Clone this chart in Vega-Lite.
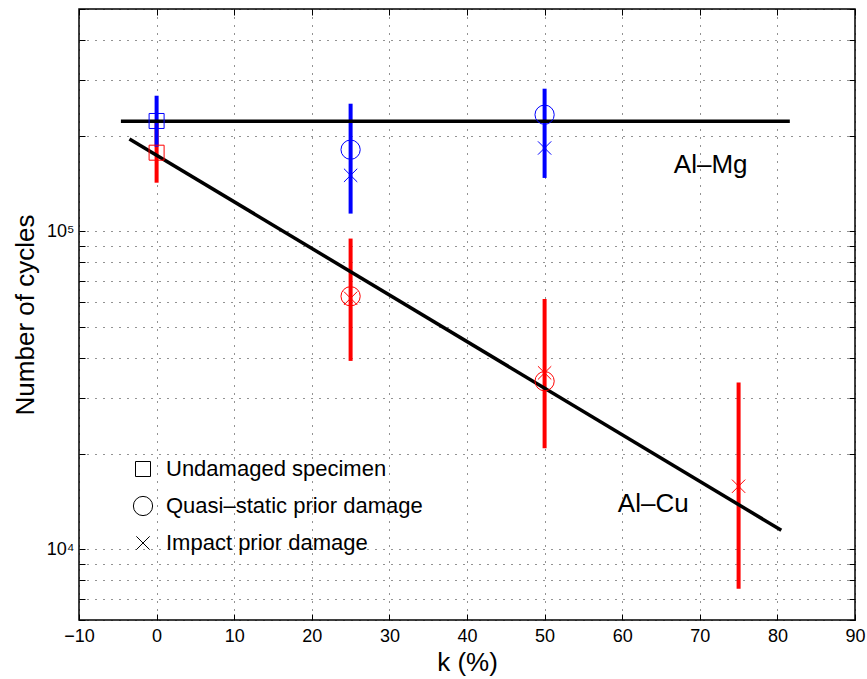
{
  "$schema": "https://vega.github.io/schema/vega-lite/v6.json",
  "width": 776,
  "height": 611,
  "autosize": "none",
  "padding": {"left": 79, "top": 9, "right": 12, "bottom": 59},
  "background": "white",
  "config": {
    "font": "Liberation Sans",
    "view": {"stroke": "black", "strokeWidth": 1.5},
    "axis": {
      "domain": false,
      "grid": true,
      "gridColor": "#000000",
      "gridOpacity": 0.85,
      "gridDash": [1, 7],
      "gridWidth": 1,
      "tickColor": "#000000",
      "tickSize": -6,
      "labelColor": "#000000",
      "labelFont": "Liberation Sans",
      "labelFontSize": 18,
      "titleFont": "Liberation Sans",
      "titleFontSize": 26,
      "titleFontWeight": "normal",
      "titleColor": "#000000"
    }
  },
  "resolve": {"axis": {"x": "independent", "y": "independent"}},
  "datasets": {
    "bars": [
      {"alloy": "Al-Cu", "k": 0, "lo": 142200, "hi": 219600},
      {"alloy": "Al-Cu", "k": 25, "lo": 39150, "hi": 94900},
      {"alloy": "Al-Cu", "k": 50, "lo": 20800, "hi": 61300},
      {"alloy": "Al-Cu", "k": 75, "lo": 7525, "hi": 33470},
      {"alloy": "Al-Mg", "k": 0, "lo": 184600, "hi": 266900},
      {"alloy": "Al-Mg", "k": 25, "lo": 113700, "hi": 251900},
      {"alloy": "Al-Mg", "k": 50, "lo": 147200, "hi": 280800}
    ],
    "fits": [
      {"alloy": "Al-Mg", "k": -4.6, "n": 222000},
      {"alloy": "Al-Mg", "k": 81.6, "n": 222000},
      {"alloy": "Al-Cu", "k": -3.5, "n": 195200},
      {"alloy": "Al-Cu", "k": 80.5, "n": 11490}
    ],
    "points": [
      {"alloy": "Al-Cu", "type": "Undamaged specimen", "k": 0, "n": 176700},
      {"alloy": "Al-Cu", "type": "Quasi\u2013static prior damage", "k": 25, "n": 62500},
      {"alloy": "Al-Cu", "type": "Impact prior damage", "k": 25, "n": 61600},
      {"alloy": "Al-Cu", "type": "Quasi\u2013static prior damage", "k": 50, "n": 33800},
      {"alloy": "Al-Cu", "type": "Impact prior damage", "k": 50, "n": 35900},
      {"alloy": "Al-Cu", "type": "Impact prior damage", "k": 75, "n": 15800},
      {"alloy": "Al-Mg", "type": "Undamaged specimen", "k": 0, "n": 222300},
      {"alloy": "Al-Mg", "type": "Quasi\u2013static prior damage", "k": 25, "n": 180600},
      {"alloy": "Al-Mg", "type": "Impact prior damage", "k": 25, "n": 150000},
      {"alloy": "Al-Mg", "type": "Quasi\u2013static prior damage", "k": 50, "n": 232600},
      {"alloy": "Al-Mg", "type": "Impact prior damage", "k": 50, "n": 182800}
    ],
    "labels": [
      {"k": 71.4, "n": 162000, "label": "Al\u2013Mg"},
      {"k": 64.0, "n": 13850, "label": "Al\u2013Cu"}
    ]
  },
  "layer": [
    {
      "data": {"name": "bars"},
      "mark": {"type": "rule", "strokeWidth": 4},
      "encoding": {
        "x": {
          "field": "k", "type": "quantitative",
          "scale": {"domain": [-10, 90], "nice": false, "zero": false},
          "axis": {"title": "k (%)", "orient": "bottom", "values": [-10, 0, 10, 20, 30, 40, 50, 60, 70, 80, 90], "labelPadding": 13, "titlePadding": 4, "labelFlush": false}
        },
        "y": {
          "field": "lo", "type": "quantitative",
          "scale": {"type": "log", "domain": [6000, 500000], "nice": false},
          "axis": {
            "title": "Number of cycles",
            "orient": "left",
            "values": [6000, 7000, 8000, 9000, 10000, 20000, 30000, 40000, 50000, 60000, 70000, 80000, 90000, 100000, 200000, 300000, 400000, 500000],
            "labelExpr": "datum.value == 10000 ? '10\u2074' : (datum.value == 100000 ? '10\u2075' : '')",
            "labelPadding": 11,
            "titlePadding": 8
          }
        },
        "y2": {"field": "hi"},
        "color": {
          "field": "alloy", "type": "nominal",
          "scale": {"domain": ["Al-Cu", "Al-Mg"], "range": ["#ff0000", "#0000ff"]},
          "legend": null
        }
      }
    },
    {
      "data": {"name": "fits"},
      "mark": {"type": "line", "strokeWidth": 3.5, "color": "#000000"},
      "encoding": {
        "x": {"field": "k", "type": "quantitative", "scale": {"domain": [-10, 90], "nice": false, "zero": false}, "axis": null},
        "y": {"field": "n", "type": "quantitative", "scale": {"type": "log", "domain": [6000, 500000], "nice": false}, "axis": null},
        "detail": {"field": "alloy", "type": "nominal"}
      }
    },
    {
      "data": {"name": "points"},
      "mark": {"type": "point", "filled": false, "strokeWidth": 1, "opacity": 1},
      "encoding": {
        "x": {"field": "k", "type": "quantitative", "scale": {"domain": [-10, 90], "nice": false, "zero": false}, "axis": null},
        "y": {"field": "n", "type": "quantitative", "scale": {"type": "log", "domain": [6000, 500000], "nice": false}, "axis": null},
        "color": {
          "field": "alloy", "type": "nominal",
          "scale": {"domain": ["Al-Cu", "Al-Mg"], "range": ["#ff0000", "#0000ff"]},
          "legend": null
        },
        "size": {
          "field": "type", "type": "nominal",
          "scale": {
            "type": "ordinal",
            "domain": ["Undamaged specimen", "Quasi\u2013static prior damage", "Impact prior damage"],
            "range": [225, 370, 177]
          }
        },
        "shape": {
          "field": "type", "type": "nominal",
          "scale": {
            "domain": ["Undamaged specimen", "Quasi\u2013static prior damage", "Impact prior damage"],
            "range": ["square", "circle", "M-1,-1L1,1M-1,1L1,-1"]
          },
          "legend": {
            "title": null,
            "orient": "none",
            "legendX": 53,
            "legendY": 449,
            "labelFontSize": 22,
            "labelFont": "Liberation Sans",
            "labelColor": "#000000",
            "labelOffset": 12,
            "labelLimit": 400,
            "symbolStrokeColor": "#000000",
            "symbolStrokeWidth": 1,
            "symbolFillColor": "transparent",
            "rowPadding": 14
          }
        }
      }
    },
    {
      "data": {"name": "labels"},
      "mark": {"type": "text", "fontSize": 26, "font": "Liberation Sans", "color": "#000000", "align": "center", "baseline": "middle"},
      "encoding": {
        "x": {
          "field": "k", "type": "quantitative", "scale": {"domain": [-10, 90], "nice": false, "zero": false},
          "axis": {"orient": "top", "title": null, "labels": false, "grid": false, "values": [-10, 0, 10, 20, 30, 40, 50, 60, 70, 80, 90]}
        },
        "y": {
          "field": "n", "type": "quantitative", "scale": {"type": "log", "domain": [6000, 500000], "nice": false},
          "axis": {"orient": "right", "title": null, "labels": false, "grid": false, "values": [6000, 7000, 8000, 9000, 10000, 20000, 30000, 40000, 50000, 60000, 70000, 80000, 90000, 100000, 200000, 300000, 400000, 500000]}
        },
        "text": {"field": "label"}
      }
    }
  ]
}
